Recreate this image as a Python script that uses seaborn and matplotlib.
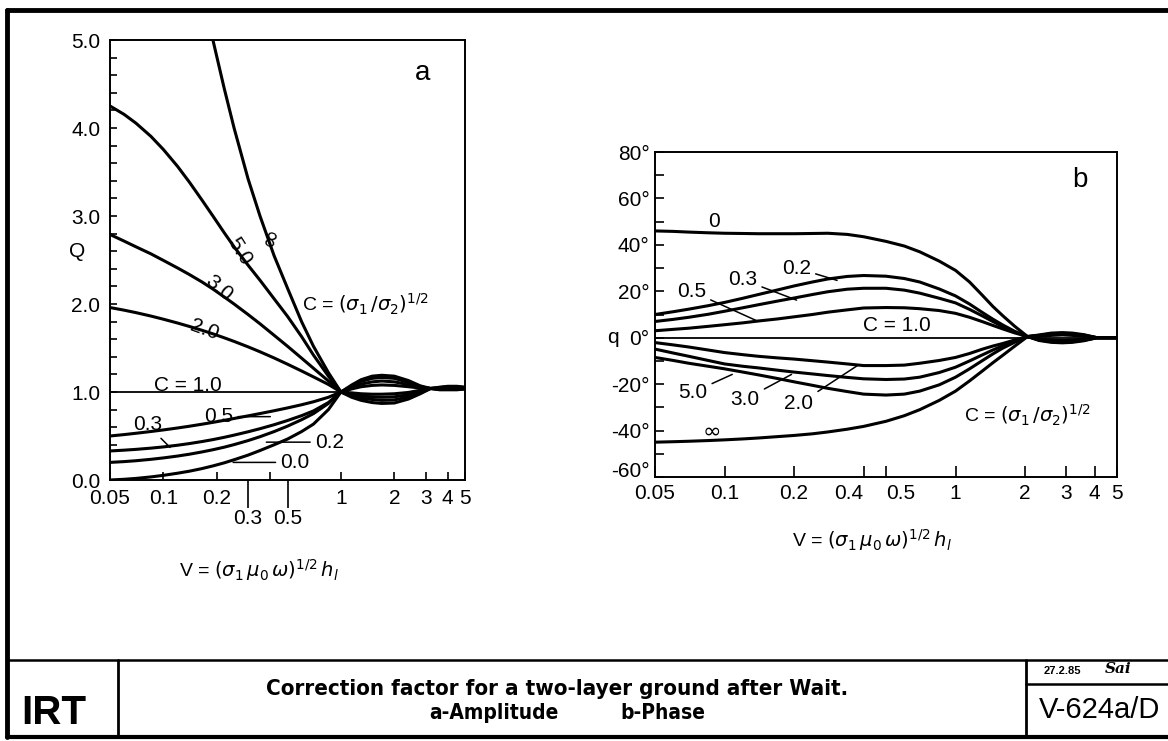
import numpy as np
import pandas as pd
import matplotlib
matplotlib.use("Agg")
import matplotlib.pyplot as plt
import seaborn as sns

nan = np.nan

# ---- panel a: amplitude Q(V) ----
v_a = [0.05, 0.06, 0.07, 0.085, 0.1, 0.12, 0.14, 0.165, 0.19, 0.22, 0.25,
       0.3, 0.35, 0.42, 0.5, 0.6, 0.7, 0.85, 1.0,
       1.15, 1.3, 1.5, 1.7, 2.0, 2.4, 2.8, 3.2, 3.6, 4.0, 4.5, 5.0]
c_a = ["∞", "5.0", "3.0", "2.0", "0.5", "0.3", "0.2", "0.0"]
q_a_inf = [nan, nan, nan, nan, nan, nan, nan, nan, 5.0, 4.45, 4.0,
           3.42, 3.0, 2.55, 2.18, 1.8, 1.52, 1.22, 1.0,
           1.08, 1.14, 1.18, 1.19, 1.18, 1.13, 1.07, 1.04, 1.055, 1.065, 1.065, 1.055]
q_a_50 = [4.25, 4.155, 4.055, 3.905, 3.755, 3.565, 3.385, 3.18, 3.0, 2.81, 2.65,
          2.44, 2.27, 2.06, 1.86, 1.63, 1.42, 1.18, 1.0,
          1.065, 1.12, 1.155, 1.165, 1.155, 1.11, 1.06, 1.04, 1.05, 1.06, 1.06, 1.05]
q_a_30 = [2.79, 2.715, 2.65, 2.57, 2.495, 2.41, 2.335, 2.25, 2.17, 2.08, 2.0,
          1.88, 1.775, 1.645, 1.52, 1.385, 1.27, 1.125, 1.0,
          1.05, 1.09, 1.115, 1.125, 1.115, 1.085, 1.05, 1.04, 1.045, 1.055, 1.055, 1.045]
q_a_20 = [1.96, 1.93, 1.902, 1.863, 1.827, 1.784, 1.745, 1.701, 1.661, 1.616, 1.575,
          1.513, 1.457, 1.387, 1.316, 1.239, 1.172, 1.086, 1.0,
          1.035, 1.06, 1.075, 1.08, 1.075, 1.06, 1.045, 1.04, 1.04, 1.05, 1.05, 1.045]
q_a_05 = [0.5, 0.516, 0.531, 0.551, 0.569, 0.591, 0.611, 0.634, 0.655, 0.678, 0.699,
          0.729, 0.755, 0.787, 0.819, 0.855, 0.889, 0.94, 1.0,
          0.99, 0.98, 0.975, 0.975, 0.98, 0.995, 1.02, 1.04, 1.04, 1.04, 1.04, 1.045]
q_a_03 = [0.33, 0.339, 0.348, 0.362, 0.376, 0.395, 0.414, 0.437, 0.459, 0.485, 0.51,
          0.548, 0.583, 0.628, 0.676, 0.731, 0.785, 0.88, 1.0,
          0.97, 0.955, 0.945, 0.94, 0.945, 0.97, 1.0, 1.04, 1.035, 1.035, 1.035, 1.04]
q_a_02 = [0.2, 0.209, 0.219, 0.235, 0.251, 0.272, 0.293, 0.319, 0.344, 0.373, 0.402,
          0.448, 0.492, 0.55, 0.612, 0.685, 0.754, 0.87, 1.0,
          0.955, 0.93, 0.915, 0.905, 0.91, 0.945, 0.99, 1.04, 1.03, 1.03, 1.03, 1.035]
q_a_00 = [0.0, 0.008, 0.018, 0.035, 0.053, 0.077, 0.1, 0.13, 0.16, 0.195, 0.23,
          0.283, 0.335, 0.4, 0.465, 0.55, 0.635, 0.8, 1.0,
          0.94, 0.905, 0.88, 0.87, 0.875, 0.92, 0.98, 1.04, 1.025, 1.025, 1.025, 1.035]
q_a_10 = [1.0] * 19 + [nan] * 12

# ---- panel b: phase q(V) in degrees ----
v_b = [0.05, 0.06, 0.07, 0.085, 0.1, 0.12, 0.14, 0.17, 0.2, 0.24, 0.28,
       0.34, 0.4, 0.5, 0.6, 0.7, 0.85, 1.0, 1.15, 1.3, 1.45, 1.6, 1.8, 2.05,
       2.3, 2.6, 2.9, 3.2, 3.6, 4.1, 5.0]
c_b = ["0", "0.2", "0.3", "0.5", "2.0", "3.0", "5.0", "∞"]
p_b_0 = [46, 45.8, 45.5, 45.2, 45, 44.9, 44.8, 44.8, 44.8, 44.9, 45,
         44.5, 43.5, 41.5, 39.5, 37, 33, 29, 24, 18.5, 13.5, 9.5, 5, 0.5,
         1.2, 2.0, 2.2, 2.0, 1.3, 0, 0]
p_b_02 = [10, 11.2, 12.3, 13.8, 15.2, 17, 18.6, 20.6, 22.3, 24, 25.3,
          26.4, 26.8, 26.5, 25.5, 24, 21, 18, 14.5, 11, 8, 5.5, 2.8, 0.5,
          1.0, 1.7, 1.9, 1.7, 1.1, 0, 0]
p_b_03 = [7, 7.9, 8.8, 10.1, 11.4, 12.9, 14.2, 15.8, 17.1, 18.6, 19.8,
          20.9, 21.3, 21.3, 20.5, 19.2, 17, 15, 12.2, 9.5, 7, 4.8, 2.5, 0.5,
          0.8, 1.4, 1.6, 1.4, 0.9, 0, 0]
p_b_05 = [3, 3.6, 4.1, 4.9, 5.6, 6.4, 7.2, 8.1, 9, 10, 11,
          12, 12.8, 13, 12.9, 12.5, 11.7, 10.5, 8.8, 7, 5.3, 3.8, 2.1, 0.5,
          0.6, 1.0, 1.2, 1.0, 0.6, 0, 0]
p_b_20 = [-2.1, -3.1, -4, -5.3, -6.4, -7.3, -8, -8.7, -9.2, -9.9, -10.5,
          -11.3, -12, -12, -11.8, -11, -9.8, -8.5, -6.8, -5, -3.6, -2.5, -1.0, 0.5,
          -0.6, -1.0, -1.2, -1.0, -0.6, 0, 0]
p_b_30 = [-4.9, -6.6, -8, -9.8, -11.3, -12.3, -13, -14, -14.8, -15.6, -16.3,
          -17.1, -17.7, -18, -17.8, -17, -15, -12.7, -10, -7.5, -5.3, -3.5, -1.5, 0.5,
          -0.8, -1.4, -1.6, -1.4, -0.9, 0, 0]
p_b_50 = [-8.5, -9.8, -11, -12.3, -13.4, -14.8, -16, -17.6, -19, -20.5, -21.8,
          -23.2, -24.3, -24.7, -24.3, -23, -20.3, -17, -13.4, -10, -7, -4.5, -2, 0.5,
          -1.0, -1.7, -1.9, -1.7, -1.1, 0, 0]
p_b_inf = [-45, -44.8, -44.6, -44.3, -44.0, -43.6, -43.2, -42.6, -42.1, -41.4, -40.6,
           -39.4, -38.2, -36, -33.6, -31, -27, -23, -18.6, -14.5, -10.8, -7.6, -3.7, 0.5,
           -1.2, -2.0, -2.2, -2.0, -1.3, 0, 0]
p_b_10 = [0.0] * 31

xt_a = [0.05, 0.1, 0.2, 0.4, 1, 2, 3, 4, 5]
xt_a_lab = ["0.05", "0.1", "0.2", "", "1", "2", "3", "4", "5"]
xt_a_low = [0.3, 0.5]
xt_b = [0.05, 0.1, 0.2, 0.4, 0.5, 1, 2, 3, 4, 5]
xt_b_lab = ["0.05", "0.1", "0.2", "0.4", "0.5", "1", "2", "3", "4", "5"]
yt_b = [-60, -40, -20, 0, 20, 40, 60, 80]

xlab = r"V = $(\sigma_1\,\mu_0\,\omega)^{1/2}\,h_l$"
clab = r"C = $(\sigma_1\,/\sigma_2)^{1/2}$"


def long_form(v, names, series, col):
    frames = [pd.DataFrame({"V": v, col: s, "C": n}) for n, s in zip(names, series)]
    return pd.concat(frames, ignore_index=True)


df_a = long_form(v_a, c_a, [q_a_inf, q_a_50, q_a_30, q_a_20,
                            q_a_05, q_a_03, q_a_02, q_a_00], "Q")
df_b = long_form(v_b, c_b, [p_b_0, p_b_02, p_b_03, p_b_05,
                            p_b_20, p_b_30, p_b_50, p_b_inf], "q")

sns.set_theme(style="white")
plt.rcParams["font.family"] = ["Liberation Sans", "DejaVu Sans"]
plt.rcParams["mathtext.fontset"] = "dejavusans"
for k in ["text.color", "axes.labelcolor", "xtick.color", "ytick.color",
          "axes.edgecolor"]:
    plt.rcParams[k] = "black"

W, H = 1168, 741
fig = plt.figure(figsize=(W / 100, H / 100), dpi=100)
FS = 15


def px_axes(x0, y0, x1, y1):
    return fig.add_axes([x0 / W, 1 - y1 / H, (x1 - x0) / W, (y1 - y0) / H])


def fline(xs, ys, lw):
    fig.add_artist(plt.Line2D([x / W for x in xs], [1 - y / H for y in ys],
                              color="black", lw=lw))


lead = dict(arrowstyle="-", lw=1.1, color="black", shrinkA=1, shrinkB=0)

# ---------------- panel a ----------------
ax = px_axes(110, 40, 465, 480)
sns.lineplot(data=df_a.dropna(), x="V", y="Q", units="C", estimator=None,
             color="black", lw=2.2, sort=False, ax=ax)
sns.lineplot(x=v_a, y=q_a_10, color="black", lw=1.3, ax=ax)
ax.set_xscale("log")
ax.set_xlim(0.05, 5)
ax.set_ylim(0, 5)
ax.set_xticks(xt_a, labels=xt_a_lab)
ax.set_xticks(xt_a_low, labels=["0.3", "0.5"], minor=True)
ax.set_yticks(np.arange(0, 5.01, 1.0), labels=[f"{v:.1f}" for v in range(6)])
ax.set_yticks(np.arange(0, 5.01, 0.2), minor=True)
ax.tick_params(axis="x", which="major", direction="in", length=5.5, width=1.2,
               labelsize=FS, pad=6.5, bottom=True)
ax.tick_params(axis="x", which="minor", direction="out", length=20, width=1.2,
               labelsize=FS, pad=1, bottom=True)
ax.tick_params(axis="y", which="both", direction="in", length=5, width=1.2,
               labelsize=FS, pad=7, left=True)
ax.set_xlabel("")
ax.set_ylabel("")
for s in ax.spines.values():
    s.set_linewidth(1.4)

ax.text(-0.093, 2.6, "Q", transform=ax.get_yaxis_transform(), fontsize=FS,
        ha="center", va="center")
ax.text(2.9, 4.62, "a", fontsize=20, ha="center", va="center")
ax.text(0.4, 2.76, "∞", fontsize=17, rotation=70, ha="center", va="center",
        family=["DejaVu Sans"])
ax.text(0.27, 2.6, "5.0", fontsize=FS, rotation=-58, ha="center", va="center")
ax.text(0.205, 2.18, "3.0", fontsize=FS, rotation=-40, ha="center", va="center")
ax.text(0.17, 1.71, "2.0", fontsize=FS, rotation=-20, ha="center", va="center")
ax.text(0.6, 2.0, clab, fontsize=14, ha="left", va="center")
ax.text(0.137, 1.07, "C = 1.0", fontsize=FS, ha="center", va="center")
ax.annotate("0.5", xy=(0.40, 0.72), xytext=(0.205, 0.72), fontsize=FS,
            ha="center", va="center", arrowprops=lead)
ax.annotate("0.3", xy=(0.109, 0.37), xytext=(0.081, 0.63), fontsize=FS,
            ha="center", va="center", arrowprops=lead)
ax.annotate("0.2", xy=(0.38, 0.43), xytext=(0.86, 0.43), fontsize=FS,
            ha="center", va="center", arrowprops=lead)
ax.annotate("0.0", xy=(0.247, 0.2), xytext=(0.55, 0.2), fontsize=FS,
            ha="center", va="center", arrowprops=lead)
ax.text(0.42, -0.205, xlab, transform=ax.transAxes, fontsize=14,
        ha="center", va="center")

# ---------------- panel b ----------------
bx = px_axes(655, 152, 1117, 477)
sns.lineplot(data=df_b, x="V", y="q", units="C", estimator=None,
             color="black", lw=2.2, sort=False, ax=bx)
sns.lineplot(x=v_b, y=p_b_10, color="black", lw=1.3, ax=bx)
bx.set_xscale("log")
bx.set_xlim(0.05, 5)
bx.set_ylim(-60, 80)
bx.set_xticks(xt_b, labels=xt_b_lab)
bx.set_xticks([], minor=True)
bx.set_yticks(yt_b, labels=[f"{v}°" for v in yt_b])
bx.set_yticks(np.arange(-60, 81, 10), minor=True)
bx.tick_params(axis="x", which="major", direction="in", length=8, width=1.2,
               labelsize=FS, pad=5, bottom=True)
bx.tick_params(axis="y", which="both", direction="in", length=6.5, width=1.2,
               labelsize=FS, pad=4, left=True)
labs = bx.get_xticklabels()
labs[3].set_horizontalalignment("right")
labs[4].set_horizontalalignment("left")
bx.get_yticklabels()[0].set_verticalalignment("baseline")
bx.set_xlabel("")
bx.set_ylabel("")
for s in bx.spines.values():
    s.set_linewidth(1.4)

bx.text(-0.092, 0, "q", transform=bx.get_yaxis_transform(), fontsize=FS,
        ha="center", va="center")
bx.text(3.47, 68, "b", fontsize=20, ha="center", va="center")
bx.text(0.09, 50, "0", fontsize=FS, ha="center", va="center")
bx.annotate("0.2", xy=(0.307, 24.7), xytext=(0.205, 30), fontsize=FS,
            ha="center", va="center", arrowprops=lead)
bx.annotate("0.3", xy=(0.205, 16.2), xytext=(0.12, 25), fontsize=FS,
            ha="center", va="center", arrowprops=lead)
bx.annotate("0.5", xy=(0.14, 7), xytext=(0.072, 20), fontsize=FS,
            ha="center", va="center", arrowprops=lead)
bx.text(0.56, 5.2, "C = 1.0", fontsize=FS, ha="center", va="center")
bx.annotate("5.0", xy=(0.108, -15.8), xytext=(0.073, -23.5), fontsize=FS,
            ha="center", va="center", arrowprops=lead)
bx.annotate("3.0", xy=(0.195, -15.8), xytext=(0.123, -26.5), fontsize=FS,
            ha="center", va="center", arrowprops=lead)
bx.annotate("2.0", xy=(0.376, -12), xytext=(0.21, -28.5), fontsize=FS,
            ha="center", va="center", arrowprops=lead)
bx.text(0.088, -40.5, "∞", fontsize=16, ha="center", va="center",
        family=["DejaVu Sans"])
bx.text(1.09, -33.5, clab, fontsize=14, ha="left", va="center")
bx.text(0.47, -0.194, xlab, transform=bx.transAxes, fontsize=14,
        ha="center", va="center")

# ---------------- drawing frame and title block ----------------
fline([7, W], [10, 10], 3.5)
fline([7, 7], [10, 737], 3.5)
fline([7, W], [737, 737], 3.0)
fline([7, W], [660, 660], 1.8)
fline([118, 118], [660, 737], 2.0)
fline([1026, 1026], [660, 737], 2.0)
fline([1026, W], [684, 684], 1.8)

fig.text(54 / W, 1 - 713 / H, "IRT", fontsize=29, fontweight="bold",
         ha="center", va="center")
cond = dict(family=["DejaVu Sans"], fontstretch="condensed", fontweight="heavy")
fig.text(557 / W, 1 - 689 / H, "Correction factor for a two-layer ground after Wait.",
         fontsize=16, ha="center", va="center", **cond)
fig.text(494 / W, 1 - 713 / H, "a-Amplitude", fontsize=15,
         ha="center", va="center", **cond)
fig.text(663 / W, 1 - 713 / H, "b-Phase", fontsize=15,
         ha="center", va="center", **cond)
fig.text(1062 / W, 1 - 671 / H, "27.2.85", fontsize=8, fontweight="bold",
         ha="center", va="center")
fig.text(1118 / W, 1 - 669 / H, "Sai", fontsize=11, fontweight="bold",
         style="italic", family=["DejaVu Serif"], ha="center", va="center")
fig.text(1100 / W, 1 - 710 / H, "V-624a/D", fontsize=21, ha="center", va="center")

fig.savefig("out.png", dpi=100, facecolor="white")
plt.close(fig)
